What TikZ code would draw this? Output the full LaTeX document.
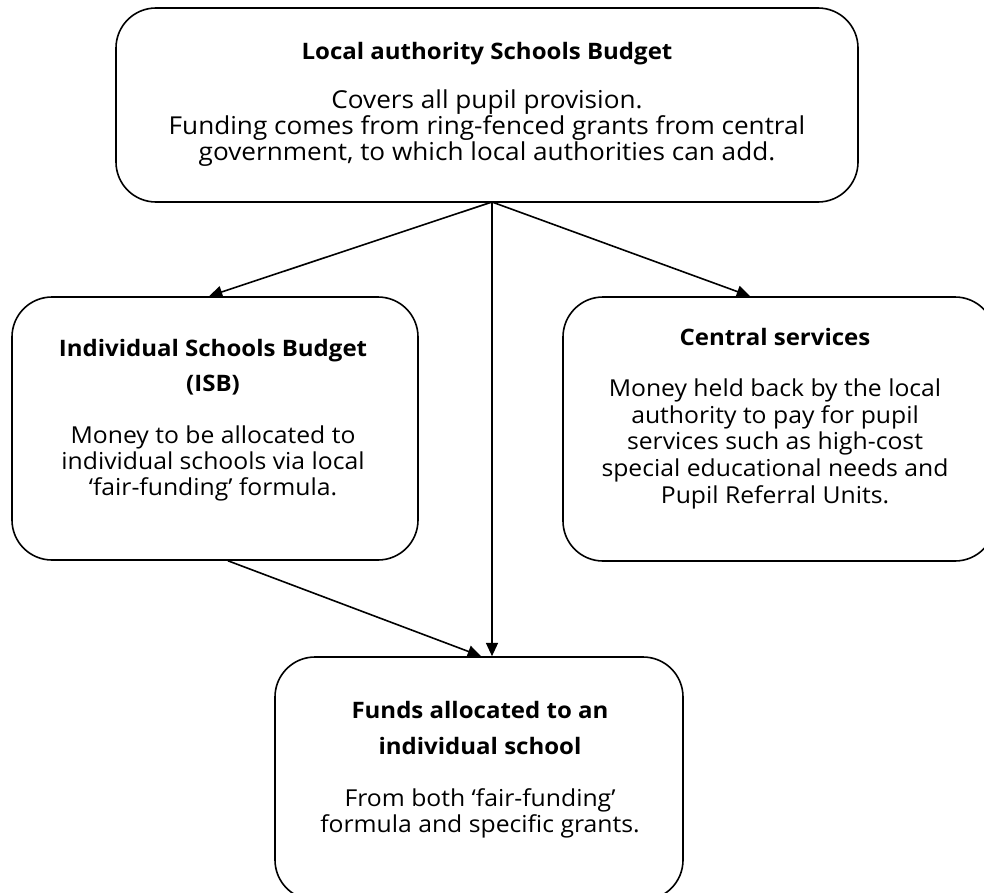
\documentclass[tikz,border=0pt]{standalone}
\usepackage{fontspec}
\setmainfont{Open Sans}[FakeStretch=1.06]
\usetikzlibrary{arrows.meta,calc}
\begin{document}
\begin{tikzpicture}[x=0.75pt,y=-0.75pt,
  box/.style={draw, line width=1.2pt, rectangle, rounded corners=30pt, inner sep=0pt},
  head/.style={font=\fontsize{17pt}{26pt}\selectfont\bfseries, align=center, anchor=base, inner sep=0pt},
  body/.style={font=\fontsize{17.5pt}{19.5pt}\selectfont, align=center, anchor=base, inner sep=0pt},
  conn/.style={line width=1.2pt, -{Triangle[length=10pt,width=9pt]}}]
\useasboundingbox (0,0) rectangle (984,892);
\begin{scope}
\clip (0,0) rectangle (984,892);
% boxes
\node[box, minimum width=556.5pt, minimum height=145.5pt] (lasb) at (487,105) {};
\node[box, minimum width=304.5pt, minimum height=197.25pt] (isb) at (215,428.5) {};
\node[box, minimum width=324pt, minimum height=198pt] (cs) at (779,429) {};
\node[box, minimum width=306pt, minimum height=182.25pt] (fund) at (479,778.5) {};
\end{scope}
% texts (anchor = baseline of last line)
\node[head] (lasbh) at (487,60) {Local authority Schools Budget};
\node[body, font=\fontsize{18.5pt}{19.5pt}\selectfont] (lasbt) at (487,160) {Covers all pupil provision.\\Funding comes from ring-fenced grants from central\\government, to which local authorities can add.};
\node[head] (isbh) at (213,391) {Individual Schools Budget\\(ISB)};
\node[body] (isbt) at (213,495) {Money to be allocated to\\individual schools via local\\‘fair-funding’ formula.};
\node[head] (csh) at (775,345) {Central services};
\node[body, font=\fontsize{17.5pt}{20pt}\selectfont] (cst) at (775,503) {Money held back by the local\\authority to pay for pupil\\services such as high-cost\\special educational needs and\\Pupil Referral Units.};
\node[head, font=\fontsize{17pt}{27pt}\selectfont\bfseries] (fundh) at (480,754) {Funds allocated to an\\individual school};
\node[body] (fundt) at (480,832) {From both ‘fair-funding’\\formula and specific grants.};
% connectors
\coordinate (hub) at (492,202);
\draw[conn] (hub) -- ($(isb.north)+(-6,0)$);
\draw[conn] (hub) -- ($(cs.north)+(-29,0)$);
\draw[conn] (hub) -- (hub |- fund.north);
\draw[conn] ($(isb.south)+(13,0)$) -- ($(fund.north)+(2,0)$);
\end{tikzpicture}
\end{document}
